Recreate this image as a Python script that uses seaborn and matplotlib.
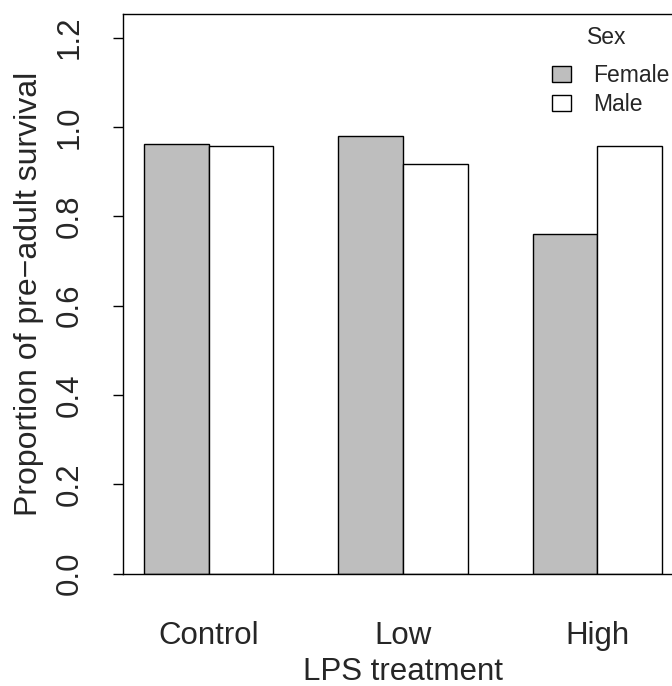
import matplotlib
matplotlib.use("Agg")
import matplotlib.pyplot as plt
from matplotlib.patches import Patch
import seaborn as sns
import pandas as pd

treatments = ["Control", "Low", "High"]
sexes = ["Female", "Male"]
female_survival = [0.962, 0.980, 0.760]
male_survival = [0.958, 0.916, 0.958]
y_ticks = [0.0, 0.2, 0.4, 0.6, 0.8, 1.0, 1.2]
y_tick_labels = ["0.0", "0.2", "0.4", "0.6", "0.8", "1.0", "1.2"]
colors = {"Female": "#BEBEBE", "Male": "#FFFFFF"}

df = pd.DataFrame({
    "LPS treatment": treatments * 2,
    "Sex": ["Female"] * len(treatments) + ["Male"] * len(treatments),
    "survival": female_survival + male_survival,
})

sns.set_style("white")
plt.rcParams['font.family'] = ['Liberation Sans', 'DejaVu Sans']

W, H = 672, 686
fig = plt.figure(figsize=(W / 100, H / 100), dpi=100)
ax = fig.add_axes([123 / W, 1 - 573.5 / H, 560 / W, 559.5 / H])

sns.barplot(data=df, x="LPS treatment", y="survival", hue="Sex",
            order=treatments, hue_order=sexes, palette=colors,
            width=2 / 3, edgecolor="black", linewidth=1.0,
            legend=False, ax=ax, errorbar=None)

ax.set_xlim(-0.44, 2.44)
ax.set_ylim(0, 1.253)
ax.set_yticks(y_ticks)
ax.set_yticklabels(y_tick_labels)

for s in ax.spines.values():
    s.set_visible(True)
    s.set_color("black")
    s.set_linewidth(1.0)

ax.tick_params(axis="y", length=7.2, width=1.0, pad=20.4, labelsize=22.5,
               labelrotation=90, left=True, color="black")
for lab in ax.get_yticklabels():
    lab.set_va("center")
ax.tick_params(axis="x", length=0, pad=34, labelsize=22.5)

ax.set_xlabel("LPS treatment", fontsize=22.5)
ax.xaxis.set_label_coords(0.5, -0.150)
ax.set_ylabel("Proportion of pre\u2212adult survival", fontsize=23)
ax.yaxis.set_label_coords(-0.1418, 0.5)

handles = [Patch(facecolor=colors[s], edgecolor="black", linewidth=1.0) for s in sexes]
ax.legend(handles, sexes, loc="upper left", bbox_to_anchor=(552 / W, 1 - 64 / H),
          bbox_transform=fig.transFigure, frameon=False, fontsize=16.5,
          handlelength=0.82, handleheight=0.65, handletextpad=0.97,
          labelspacing=0.27, borderpad=0, borderaxespad=0)
fig.text(606.7 / W, 1 - 44 / H, "Sex", ha="center", va="baseline", fontsize=16.5)

fig.savefig("out.png", dpi=100)
